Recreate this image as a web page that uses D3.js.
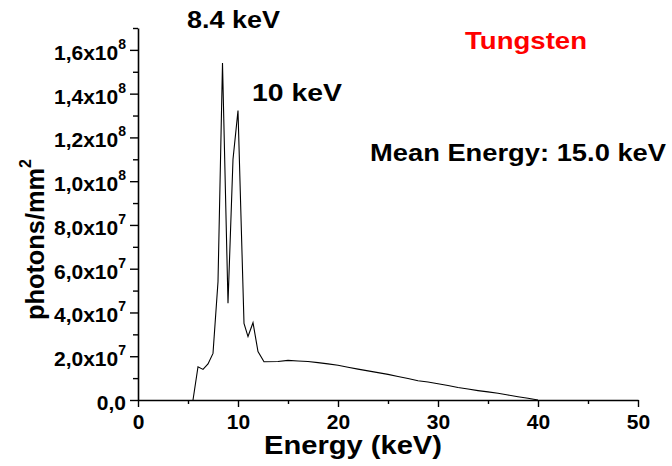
<!DOCTYPE html>
<html>
<head>
<meta charset="utf-8">
<script src="https://cdn.jsdelivr.net/npm/d3@7"></script>
<style>
  html, body { margin: 0; padding: 0; background: #fff; }
  svg { display: block; }
  text { font-family: "Liberation Sans", Arial, Helvetica, sans-serif; font-weight: bold; }
</style>
</head>
<body>
<svg id="chart" width="672" height="466"></svg>
<script>
// ---- data ----
const energy = [5.5, 6.0, 6.5, 7.0, 7.5, 8.0, 8.45, 9.0, 9.5, 10.0, 10.6, 11.0, 11.5, 12.0, 12.6,
  14, 15, 16, 17, 18, 19, 20, 21, 22, 23, 24, 25, 26, 27, 28, 29, 30, 31, 32, 33, 34, 35, 36, 37, 38, 39, 40];
const photons = [0, 1.52e7, 1.40e7, 1.65e7, 2.13e7, 5.4e7, 1.54e8, 4.42e7, 1.10e8, 1.323e8, 3.5e7, 2.9e7, 3.53e7, 2.21e7, 1.75e7,
  1.76e7, 1.81e7, 1.78e7, 1.76e7, 1.71e7, 1.65e7, 1.59e7, 1.50e7, 1.41e7, 1.33e7, 1.25e7, 1.17e7, 1.07e7, 9.8e6, 8.8e6,
  8.2e6, 7.4e6, 6.6e6, 5.7e6, 5.0e6, 4.3e6, 3.7e6, 3.1e6, 2.3e6, 1.5e6, 8e5, 0];

const xTicks = [0, 10, 20, 30, 40, 50];
const xMinorTicks = [5, 15, 25, 35, 45];
const yTicks = [0, 2e7, 4e7, 6e7, 8e7, 1e8, 1.2e8, 1.4e8, 1.6e8];
const yTickMantissa = ["0,0", "2,0x10", "4,0x10", "6,0x10", "8,0x10", "1,0x10", "1,2x10", "1,4x10", "1,6x10"];
const yTickExponent = ["", "7", "7", "7", "7", "8", "8", "8", "8"];
const yMinorTicks = [1e7, 3e7, 5e7, 7e7, 9e7, 1.1e8, 1.3e8, 1.5e8, 1.7e8];

const xTitle = "Energy (keV)";
const yTitle = "photons/mm";
const yTitleSup = "2";
const annotations = [
  { text: "8.4 keV", x: 187, y: 28, len: 93, color: "#000" },
  { text: "10 keV", x: 252, y: 101, len: 90, color: "#000" },
  { text: "Tungsten", x: 465, y: 49, len: 122, color: "#ff0000" },
  { text: "Mean Energy: 15.0 keV", x: 370, y: 161, len: 296, color: "#000" }
];

// ---- layout ----
const svg = d3.select("#chart");
const x = d3.scaleLinear().domain([0, 50]).range([138, 638]);
const y = d3.scaleLinear().domain([0, 1.7e8]).range([400, 28]);

// minor ticks
svg.append("g").attr("transform", "translate(0,400)")
  .call(d3.axisBottom(x).tickValues(xMinorTicks).tickSize(4).tickFormat(""))
  .call(g => g.select(".domain").remove());
svg.append("g").attr("transform", "translate(138,0)")
  .call(d3.axisLeft(y).tickValues(yMinorTicks.filter(v => v <= 1.7e8)).tickSize(5).tickFormat(""))
  .call(g => g.select(".domain").remove());

// major x axis
const gx = svg.append("g").attr("transform", "translate(0,400)")
  .call(d3.axisBottom(x).tickValues(xTicks).tickSize(7).tickSizeOuter(0).tickFormat(d3.format("d")));
gx.selectAll("text").attr("y", 29).attr("dy", 0).attr("font-size", 21).attr("fill", "#000");

// major y axis
const gy = svg.append("g").attr("transform", "translate(138,0)")
  .call(d3.axisLeft(y).tickValues(yTicks).tickSize(8).tickSizeOuter(0).tickFormat(""));
gy.selectAll(".tick").each(function(d, i) {
  const t = d3.select(this).select("text")
    .attr("x", -12).attr("dy", "0.45em").attr("font-size", 21).attr("fill", "#000")
    .attr("text-anchor", "end");
  t.text(null);
  t.append("tspan").text(yTickMantissa[i]);
  if (yTickExponent[i]) {
    t.append("tspan").attr("font-size", 14).attr("dy", -11).text(yTickExponent[i]);
  }
});

svg.selectAll(".domain").attr("stroke", "#000").attr("stroke-width", 1.6);
svg.selectAll(".tick line").attr("stroke", "#000").attr("stroke-width", 1.4);

// data line
const line = d3.line().x((d, i) => x(energy[i])).y((d, i) => y(photons[i]));
svg.append("path").datum(photons)
  .attr("d", line)
  .attr("fill", "none").attr("stroke", "#000").attr("stroke-width", 1.1)
  .attr("stroke-linejoin", "miter");

// axis titles
svg.append("text").attr("x", 264).attr("y", 454)
  .attr("font-size", 25).attr("textLength", 178).attr("lengthAdjust", "spacingAndGlyphs")
  .text(xTitle);

const yt = svg.append("text")
  .attr("transform", "translate(44,320) rotate(-90)")
  .attr("font-size", 25);
yt.append("tspan").attr("textLength", 152).attr("lengthAdjust", "spacingAndGlyphs").text(yTitle);
yt.append("tspan").attr("font-size", 16).attr("dy", -13).text(yTitleSup);

// annotations
annotations.forEach(a => {
  svg.append("text").attr("x", a.x).attr("y", a.y)
    .attr("font-size", 24).attr("fill", a.color)
    .attr("textLength", a.len).attr("lengthAdjust", "spacingAndGlyphs")
    .text(a.text);
});
</script>
</body>
</html>
